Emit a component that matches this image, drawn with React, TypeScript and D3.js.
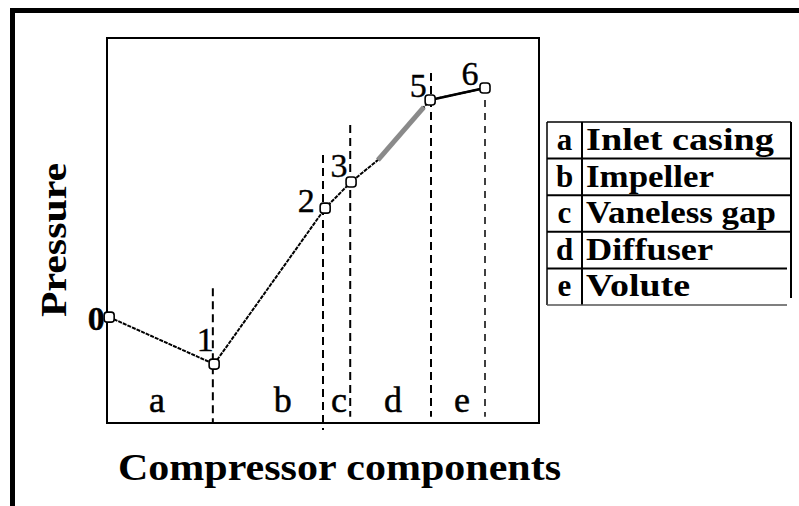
import React from "react";
import * as d3 from "d3";

// ---- data ----
const pointLabels = ["0", "1", "2", "3", "", "5", "6"];
const pointX = [0.5, 24.8, 50.5, 56.5, 62.7, 74.8, 87.5];
const pointY = [27.5, 15.3, 55.8, 62.6, 68.3, 83.9, 87.0];
const boundaryX = [24.5, 50, 56.3, 75, 87.5];
const boundaryTop = [35, 69.6, 77.4, 90.9, 83.9];
const boundaryBottom = [0, -1.8, 1.6, 1.6, 1.6];
const regionKeys = ["a", "b", "c", "d", "e"];
const regionCenters = [11.6, 40.7, 53.7, 66.2, 82.2];
const legendNames = ["Inlet casing", "Impeller", "Vaneless gap", "Diffuser", "Volute"];

export default function App() {
  const W = 799, H = 506;
  const x = d3.scaleLinear().domain([0, 100]).range([107, 539]);
  const y = d3.scaleLinear().domain([0, 100]).range([423, 38]);
  const serif = "'Liberation Serif', 'Times New Roman', serif";

  const pts = pointX.map((v, i) => [x(v), y(pointY[i])] as [number, number]);
  const line = d3.line();
  const grayStart = pts[4];
  const grayEnd: [number, number] = [
    pts[4][0] + (pts[5][0] - pts[4][0]) * 0.88,
    pts[4][1] + (pts[5][1] - pts[4][1]) * 0.88,
  ];

  // label offsets (layout only)
  const labelDx = [-13, -9, -19, -12, 0, -12, -15];
  const labelDy = [13, -13, 4, -5, 0, -3, -3];

  const rows = d3.scaleBand().domain(regionKeys).range([122, 305]);
  const legendWidths = [188, 128, 190, 127, 104];
  const tblL = 547, tblDiv = 582, tblR = 791;

  return (
    <svg width={W} height={H} style={{ position: "absolute", left: 0, top: 0, background: "#fff" }}>
      <rect x={0} y={0} width={W} height={H} fill="#fff" />
      {/* outer frame */}
      <path d="M12.5,530 V10.5 H805" fill="none" stroke="#000" strokeWidth={5} />

      {/* plot box */}
      <rect x={x(0)} y={y(100)} width={x(100) - x(0)} height={y(0) - y(100)} fill="none" stroke="#000" strokeWidth={2} />

      {/* boundaries */}
      {boundaryX.map((b, i) => (
        <line key={"b" + i} x1={x(b)} x2={x(b)} y1={y(boundaryTop[i])} y2={y(boundaryBottom[i])}
          stroke="#000" strokeWidth={i === 4 ? 1.5 : 2} strokeDasharray={i === 4 ? "7,6" : "8,5"} />
      ))}

      {/* data line */}
      <path d={line(pts) || ""} fill="none" stroke="#000" strokeWidth={2} strokeDasharray="4,1" />
      <path d={line([grayStart, grayEnd]) || ""} fill="none" stroke="#8a8a8a" strokeWidth={5} />
      <path d={line([pts[5], pts[6]]) || ""} fill="none" stroke="#000" strokeWidth={2.5} />

      {/* markers */}
      {pts.map((p, i) => pointLabels[i] === "" ? null : (
        <rect key={"m" + i} x={p[0] - 5} y={p[1] - 5} width={10} height={10} rx={3}
          fill="#fff" stroke="#000" strokeWidth={1.6} />
      ))}

      {/* point labels */}
      {pts.map((p, i) => pointLabels[i] === "" ? null : (
        <text key={"l" + i} x={p[0] + labelDx[i]} y={p[1] + labelDy[i]} fontFamily={serif}
          fontSize={34} fontWeight={i === 0 ? "bold" : "normal"} textAnchor="middle" fill="#000"
          stroke="#000" strokeWidth={0.4}>{pointLabels[i]}</text>
      ))}

      {/* region letters */}
      {regionKeys.map((k, i) => (
        <text key={"r" + k} x={x(regionCenters[i])} y={412} fontFamily={serif} fontSize={36}
          textAnchor="middle" fill="#000" stroke="#000" strokeWidth={0.5}>{k}</text>
      ))}

      {/* axis titles */}
      <text x={118} y={480} fontFamily={serif} fontSize={38} fontWeight="bold" textLength={443}
        lengthAdjust="spacingAndGlyphs" fill="#000">Compressor components</text>
      <text transform="translate(66,240) rotate(-90)" textAnchor="middle" fontFamily={serif} fontSize={36}
        fontWeight="bold" textLength={154} lengthAdjust="spacingAndGlyphs" fill="#000">Pressure</text>

      {/* legend table */}
      <g>
        <line x1={tblL} x2={tblL} y1={122} y2={305} stroke="#000" strokeWidth={1.5} />
        <line x1={tblDiv} x2={tblDiv} y1={122} y2={305} stroke="#000" strokeWidth={2} />
        <line x1={tblR} x2={tblR} y1={122} y2={298} stroke="#000" strokeWidth={2} />
        {regionKeys.map((k, i) => (
          <line key={"hl" + k} x1={tblL} x2={i === 4 ? tblR - 4 : tblR} y1={rows(k)!} y2={rows(k)!}
            stroke="#000" strokeWidth={i === 0 ? 1.5 : 2} />
        ))}
        <line x1={tblL} x2={tblR - 4} y1={305} y2={305} stroke="#555" strokeWidth={1.5} />
        {regionKeys.map((k, i) => (
          <g key={"lg" + k}>
            <text x={(tblL + tblDiv) / 2} y={rows(k)! + 28} fontFamily={serif} fontSize={31} fontWeight="bold"
              textAnchor="middle" fill="#000">{k}</text>
            <text x={586} y={rows(k)! + 28} fontFamily={serif} fontSize={31} fontWeight="bold"
              textLength={legendWidths[i]} lengthAdjust="spacingAndGlyphs" fill="#000">{legendNames[i]}</text>
          </g>
        ))}
      </g>
    </svg>
  );
}
